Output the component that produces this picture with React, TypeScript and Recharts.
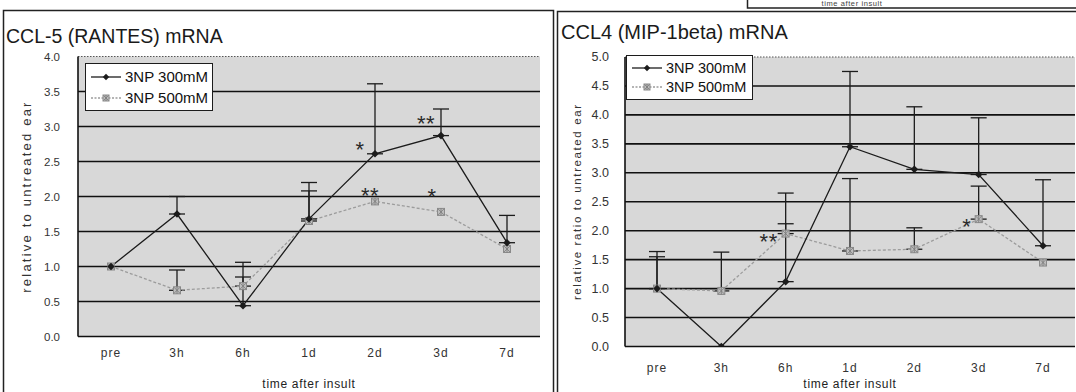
import React from 'react';
import { LineChart, Line, XAxis, YAxis, CartesianGrid, ErrorBar, ReferenceLine, LabelList, Legend } from 'recharts';

const FONT = '"Liberation Sans", Arial, sans-serif';

// ---------- data ----------
const timePoints = ['pre', '3h', '6h', '1d', '2d', '3d', '7d'];
const seriesNames = ['3NP 300mM', '3NP 500mM'];

// CCL-5 (RANTES) mRNA
const ccl5Np300 = [1.0, 1.75, 0.44, 1.68, 2.61, 2.87, 1.34];
const ccl5Np300Sd = [null, 0.25, 0.62, 0.52, 1.0, 0.38, 0.39];
const ccl5Np500 = [1.0, 0.66, 0.72, 1.65, 1.93, 1.78, 1.25];
const ccl5Np500Sd = [null, 0.29, 0.13, 0.43, null, null, null];
const ccl5Sig300 = ['', '', '', '', '*', '**', ''];
const ccl5Sig500 = ['', '', '', '', '**', '*', ''];
const ccl5Ticks = [0, 0.5, 1, 1.5, 2, 2.5, 3, 3.5, 4];

// CCL4 (MIP-1beta) mRNA
const ccl4Np300 = [1.0, 0.0, 1.12, 3.45, 3.06, 2.97, 1.74];
const ccl4Np300Sd = [0.64, null, 1.53, 1.3, 1.08, 0.98, 1.14];
const ccl4Np500 = [1.0, 0.96, 1.95, 1.65, 1.68, 2.2, 1.45];
const ccl4Np500Sd = [0.55, 0.67, 0.17, 1.25, 0.37, 0.57, null];
const ccl4Sig300 = ['', '', '', '', '', '', ''];
const ccl4Sig500 = ['', '', '**', '', '', '*', ''];
const ccl4Ticks = [0, 0.5, 1, 1.5, 2, 2.5, 3, 3.5, 4, 4.5, 5];

const buildRows = (a, aSd, aSig, b, bSd, bSig) =>
  timePoints.map((t, i) => ({
    t,
    a: a[i],
    aErr: aSd[i] == null ? null : [0, aSd[i]],
    aSig: aSig[i],
    b: b[i],
    bErr: bSd[i] == null ? null : [0, bSd[i]],
    bSig: bSig[i],
  }));

const ccl5Rows = buildRows(ccl5Np300, ccl5Np300Sd, ccl5Sig300, ccl5Np500, ccl5Np500Sd, ccl5Sig500);
const ccl4Rows = buildRows(ccl4Np300, ccl4Np300Sd, ccl4Sig300, ccl4Np500, ccl4Np500Sd, ccl4Sig500);

// ---------- styling ----------
const BLACK = '#1c1c1c';
const GRAY = '#9c9c9c';
const PLOT_BG = '#d8d8d8';

const sigOffsets = {
  ccl5a: { 4: [-15, -9], 5: [-15, -17] },
  ccl5b: { 4: [-5, -11], 5: [-9, -20] },
  ccl4a: {},
  ccl4b: { 2: [-17, 3], 5: [-12, 2] },
};

const Diamond = ({ cx, cy, s = 3.8 }) => (
  <path d={`M${cx},${cy - s} L${cx + s},${cy} L${cx},${cy + s} L${cx - s},${cy} Z`} fill={BLACK} />
);

const StarSquare = ({ cx, cy, s = 3.5 }) => (
  <g>
    <rect x={cx - s} y={cy - s} width={2 * s} height={2 * s} fill="#bdbdbd" stroke="#8a8a8a" strokeWidth={1} />
    <path
      d={`M${cx - s + 0.5},${cy - s + 0.5}L${cx + s - 0.5},${cy + s - 0.5}M${cx + s - 0.5},${cy - s + 0.5}L${cx - s + 0.5},${cy + s - 0.5}M${cx},${cy - s}L${cx},${cy + s}`}
      stroke="#7a7a7a"
      strokeWidth={0.8}
    />
  </g>
);

const sigLabel = (offsets) => (props) => {
  const { x, y, value, index } = props;
  if (!value) return null;
  const off = offsets[index] || [0, -12];
  return (
    <text
      key={`sig-${index}`}
      x={x + off[0]}
      y={y + off[1] + 12.5}
      textAnchor="middle"
      fontSize={22}
      letterSpacing={0.5}
      fill="#2a2a2a"
      fontFamily={FONT}
    >
      {value}
    </text>
  );
};

const LegendBox = ({ w, h, fontSize }) => (
  <div
    style={{
      width: w,
      height: h,
      boxSizing: 'border-box',
      border: `1.5px solid ${BLACK}`,
      background: '#fff',
      display: 'flex',
      flexDirection: 'column',
      justifyContent: 'space-around',
      padding: '2px 0 2px 4px',
      fontFamily: FONT,
      fontSize,
      color: '#111',
    }}
  >
    {seriesNames.map((name, i) => (
      <div key={name} style={{ display: 'flex', alignItems: 'center', lineHeight: 1 }}>
        <svg width={32} height={10} style={{ display: 'block' }}>
          <line
            x1={1}
            x2={31}
            y1={5}
            y2={5}
            stroke={i === 0 ? BLACK : GRAY}
            strokeWidth={1.3}
            strokeDasharray={i === 0 ? undefined : '2 1.5'}
          />
          {i === 0 ? <Diamond cx={16} cy={5} s={3.2} /> : <StarSquare cx={16} cy={5} s={3} />}
        </svg>
        <span style={{ marginLeft: 3 }}>{name}</span>
      </div>
    ))}
  </div>
);

function Panel({
  rows,
  width,
  height,
  margin,
  yAxisWidth,
  xAxisHeight,
  yMax,
  ticks,
  yLabel,
  yLabelOffset,
  yLabelFont,
  yLabelSpacing,
  yTickFont,
  yTickMargin,
  xTickMargin,
  pad,
  offA,
  offB,
  legend,
}) {
  return (
    <LineChart width={width} height={height} data={rows} margin={margin}>
      <CartesianGrid
        vertical={false}
        horizontalValues={ticks.filter((v) => v > 0 && v < yMax)}
        stroke="#111"
        strokeWidth={1.6}
        fill={PLOT_BG}
        fillOpacity={1}
      />
      <ReferenceLine y={yMax} stroke="#555" strokeWidth={1.2} strokeDasharray="1.5 1.5" />
      <XAxis
        dataKey="t"
        interval={0}
        padding={{ left: pad, right: pad }}
        height={xAxisHeight}
        tickLine={false}
        tickSize={0}
        tickMargin={xTickMargin}
        axisLine={{ stroke: '#111', strokeWidth: 1.6 }}
        tick={{ fontSize: 12, fill: '#333', fontFamily: FONT, letterSpacing: 1 }}
        label={{
          value: 'time after insult',
          position: 'insideBottom',
          offset: 4,
          style: { fontSize: 12, fill: '#222', fontFamily: FONT, letterSpacing: 0.7 },
        }}
      />
      <YAxis
        domain={[0, yMax]}
        ticks={ticks}
        allowDataOverflow
        tickFormatter={(v) => v.toFixed(1)}
        width={yAxisWidth}
        tickLine={false}
        tickSize={0}
        tickMargin={yTickMargin}
        axisLine={{ stroke: '#111', strokeWidth: 1.6 }}
        tick={{ fontSize: yTickFont, fill: '#333', fontFamily: FONT }}
        label={{
          value: yLabel,
          angle: -90,
          position: 'insideLeft',
          offset: yLabelOffset,
          style: { textAnchor: 'middle', fontSize: yLabelFont, fill: '#333', fontFamily: FONT, letterSpacing: yLabelSpacing },
        }}
      />
      <YAxis
        yAxisId="edge"
        orientation="right"
        width={0}
        domain={[0, yMax]}
        tick={false}
        tickLine={false}
        axisLine={{ stroke: '#333', strokeWidth: 1 }}
      />
      <Legend
        layout="horizontal"
        verticalAlign="middle"
        align="center"
        wrapperStyle={{ left: legend.left, top: legend.top, width: legend.w, height: legend.h }}
        content={() => <LegendBox w={legend.w} h={legend.h} fontSize={legend.font} />}
      />
      <Line
        dataKey="b"
        name={seriesNames[1]}
        stroke={GRAY}
        strokeWidth={1.3}
        strokeDasharray="3 2"
        isAnimationActive={false}
        activeDot={false}
        dot={(p) => <StarSquare key={`b${p.index}`} cx={p.cx} cy={p.cy} />}
      >
        <ErrorBar dataKey="bErr" direction="y" width={8} stroke={BLACK} strokeWidth={1.3} isAnimationActive={false} />
        <LabelList dataKey="bSig" content={sigLabel(offB)} />
      </Line>
      <Line
        dataKey="a"
        name={seriesNames[0]}
        stroke={BLACK}
        strokeWidth={1.3}
        isAnimationActive={false}
        activeDot={false}
        dot={(p) => <Diamond key={`a${p.index}`} cx={p.cx} cy={p.cy} />}
      >
        <ErrorBar dataKey="aErr" direction="y" width={8} stroke={BLACK} strokeWidth={1.3} isAnimationActive={false} />
        <LabelList dataKey="aSig" content={sigLabel(offA)} />
      </Line>
    </LineChart>
  );
}

export default function App() {
  return (
    <div
      style={{
        position: 'fixed',
        left: 0,
        top: 0,
        width: 1076,
        height: 392,
        background: '#fff',
        overflow: 'hidden',
        fontFamily: FONT,
      }}
    >
      <svg width={1076} height={392} style={{ position: 'absolute', left: 0, top: 0 }}>
        {/* partial panel above right */}
        <path d="M747.5,0 V8 H1076" fill="none" stroke="#222" strokeWidth={1.5} />
        <text x={852} y={6} textAnchor="middle" fontSize={7.5} fill="#444" fontFamily={FONT} letterSpacing={0.6}>
          time after insult
        </text>
        {/* panel frames */}
        <rect x={3.5} y={10.5} width={550} height={400} fill="none" stroke="#222" strokeWidth={1.5} />
        <rect x={557.5} y={11.5} width={540} height={400} fill="none" stroke="#222" strokeWidth={1.5} />
        {/* titles */}
        <text x={6} y={43} fontSize={19.5} fill="#1a1a1a" fontFamily={FONT}>
          CCL-5 (RANTES) mRNA
        </text>
        <text x={561} y={39} fontSize={20} fill="#1a1a1a" fontFamily={FONT}>
          CCL4 (MIP-1beta) mRNA
        </text>
      </svg>

      <div style={{ position: 'absolute', left: 0, top: 0 }}>
        <Panel
          rows={ccl5Rows}
          width={556}
          height={392}
          margin={{ top: 56.5, right: 16, bottom: 0, left: 0 }}
          yAxisWidth={78}
          xAxisHeight={55.5}
          yMax={4}
          ticks={ccl5Ticks}
          yLabel="relative to untreated ear"
          yLabelOffset={26}
          yLabelFont={13}
          yLabelSpacing={2.2}
          yTickFont={11.5}
          yTickMargin={18}
          xTickMargin={12}
          pad={33}
          offA={sigOffsets.ccl5a}
          offB={sigOffsets.ccl5b}
          legend={{ left: 85, top: 63, w: 128, h: 48, font: 15 }}
        />
      </div>

      <div style={{ position: 'absolute', left: 557, top: 0 }}>
        <Panel
          rows={ccl4Rows}
          width={519}
          height={392}
          margin={{ top: 57, right: 1, bottom: 0, left: 0 }}
          yAxisWidth={68}
          xAxisHeight={45.5}
          yMax={5}
          ticks={ccl4Ticks}
          yLabel="relative ratio to untreated ear"
          yLabelOffset={20}
          yLabelFont={11.5}
          yLabelSpacing={1.6}
          yTickFont={12.5}
          yTickMargin={16}
          xTickMargin={17}
          pad={32}
          offA={sigOffsets.ccl4a}
          offB={sigOffsets.ccl4b}
          legend={{ left: 69, top: 55, w: 127, h: 45, font: 14.5 }}
        />
      </div>
    </div>
  );
}
